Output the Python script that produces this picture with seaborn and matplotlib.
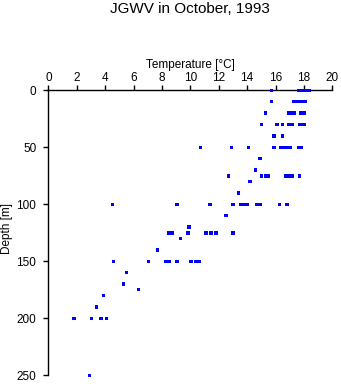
import matplotlib
matplotlib.use("Agg")
import matplotlib.pyplot as plt
import seaborn as sns
import pandas as pd

# Temperature readings (deg C) grouped by sampling depth (m)
depths = [0, 10, 20, 30, 40, 50, 60, 70, 75, 80, 90, 100, 110, 120, 125,
          130, 140, 150, 160, 170, 175, 180, 190, 200, 250]
temps_by_depth = [
    [15.7, 17.6, 17.8, 18.0, 18.2, 18.4],
    [15.7, 17.3, 17.5, 17.7, 17.9, 18.1],
    [15.3, 16.9, 17.1, 17.3, 17.8, 18.0],
    [15.0, 16.1, 16.5, 16.9, 17.1, 17.2, 17.7, 17.9, 18.0],
    [15.9, 16.5],
    [10.7, 12.9, 14.1, 15.9, 16.4, 16.6, 16.8, 17.05, 17.6, 17.8],
    [14.9],
    [14.6],
    [12.7, 15.0, 15.3, 15.5, 16.7, 16.95, 17.15, 17.7],
    [14.2],
    [13.4],
    [4.5, 9.05, 11.4, 13.0, 13.55, 13.75, 14.0, 14.65, 14.9, 16.3, 16.8],
    [12.5],
    [9.9],
    [8.5, 8.7, 9.85, 11.1, 11.45, 11.8, 13.0],
    [9.3],
    [7.7],
    [4.6, 7.05, 8.3, 8.55, 9.05, 10.05, 10.4, 10.65],
    [5.5],
    [5.3],
    [6.35],
    [3.9],
    [3.4],
    [1.8, 3.05, 3.7, 4.1],
    [2.9],
]

xticks = [0, 2, 4, 6, 8, 10, 12, 14, 16, 18, 20]
yticks = [0, 50, 100, 150, 200, 250]

rows = []
for d, ts in zip(depths, temps_by_depth):
    for t in ts:
        rows.append({"Temperature": t, "Depth": d})
df = pd.DataFrame(rows)

sns.set_theme(style="white")
plt.rcParams['font.family'] = ['Liberation Sans', 'DejaVu Sans']

fig = plt.figure(figsize=(3.41, 3.84), dpi=100)
ax = fig.add_axes([0.1417, 0.0227, 0.8328, 0.7421])

sns.scatterplot(data=df, x="Temperature", y="Depth", ax=ax, marker="s",
                s=6, color="#0000ff", edgecolor="none", linewidth=0,
                clip_on=False, zorder=5)

ax.set_xlim(0, 20)
ax.set_ylim(250, 0)
ax.set_xticks(xticks)
ax.set_yticks(yticks)
ax.xaxis.tick_top()
ax.xaxis.set_label_position("top")
for s in ["bottom", "right"]:
    ax.spines[s].set_visible(False)
for s in ["top", "left"]:
    ax.spines[s].set_color("black")
    ax.spines[s].set_linewidth(1.0)
ax.tick_params(axis="x", direction="out", length=3.6, width=1.0, pad=1,
               labelsize=8.5, colors="black", top=True, bottom=False)
ax.tick_params(axis="y", direction="out", length=3.6, width=1.0, pad=5,
               labelsize=8.5, colors="black", left=True)
ax.set_xlabel("Temperature [\u00b0C]", fontsize=8.5, labelpad=3, color="black")
ax.set_ylabel("Depth [m]", fontsize=8.5, color="black")
ax.yaxis.set_label_coords(-0.125, 0.515)
ax.grid(False)

fig.text(0.558, 0.977, "JGWV in October, 1993", ha="center", va="center",
         fontsize=11, color="black")

fig.savefig("out.png", dpi=100)
